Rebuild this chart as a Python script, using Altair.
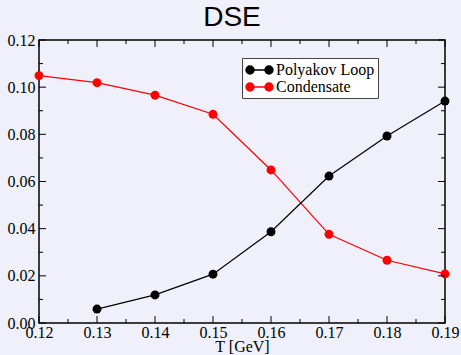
import altair as alt
import pandas as pd

# Temperature grid [GeV] and the two order parameters
T = [0.12, 0.13, 0.14, 0.15, 0.16, 0.17, 0.18, 0.19]
polyakov = [None, 0.0059, 0.0119, 0.0207, 0.0387, 0.0623, 0.0793, 0.0941]
condensate = [0.1049, 0.1019, 0.0966, 0.0885, 0.0649, 0.0376, 0.0266, 0.0208]

series_names = ["Polyakov Loop", "Condensate"]
series_colors = ["#000000", "#ff0000"]

# Axis ticks
x_major = [0.12, 0.13, 0.14, 0.15, 0.16, 0.17, 0.18, 0.19]
x_minor = [0.125, 0.135, 0.145, 0.155, 0.165, 0.175, 0.185]
y_major = [0.0, 0.02, 0.04, 0.06, 0.08, 0.10, 0.12]
y_minor = [0.01, 0.03, 0.05, 0.07, 0.09, 0.11]

W, H = 406, 283
MAJOR, MINOR = 7, 4
SERIF = "Liberation Serif, 'Times New Roman', Times, serif"
BG = "#f0f0fb"

rows = []
for t, p, c in zip(T, polyakov, condensate):
    if p is not None:
        rows.append({"T": t, "value": p, "series": series_names[0]})
    rows.append({"T": t, "value": c, "series": series_names[1]})
df = pd.DataFrame(rows)

xs = alt.Scale(domain=[0.12, 0.19], nice=False, zero=False)
ys = alt.Scale(domain=[0.0, 0.12], nice=False)

x_axis = alt.Axis(values=x_major, format=".2f", ticks=False, domain=False, grid=False,
                  labelFont=SERIF, labelFontSize=16, labelColor="#000", labelPadding=1,
                  labelFlush=False, labelOverlap=False,
                  title="T [GeV]", titleFont=SERIF, titleFontSize=16,
                  titleFontWeight="normal", titleColor="#000", titlePadding=-2)
y_axis = alt.Axis(values=y_major, format=".2f", ticks=False, domain=False, grid=False,
                  labelFont=SERIF, labelFontSize=16, labelColor="#000", labelPadding=4,
                  labelFlush=False, labelOverlap=False, title=None)

color = alt.Color("series:N",
                  scale=alt.Scale(domain=series_names, range=series_colors),
                  legend=alt.Legend(title=None))

base = alt.Chart(df).encode(
    x=alt.X("T:Q", scale=xs, axis=x_axis),
    y=alt.Y("value:Q", scale=ys, axis=y_axis),
    color=color,
)
lines = base.mark_line(strokeWidth=1.2)
points = base.mark_point(filled=True, size=80, opacity=1)

# Inward tick marks on all four sides of the frame
tick_style = dict(color="#000", strokeWidth=1)


def x_ticks(vals, length):
    src = alt.Chart(pd.DataFrame({"v": vals}))
    enc_x = alt.X("v:Q", scale=xs, axis=x_axis)
    return [
        src.mark_rule(**tick_style).encode(x=enc_x, y=alt.value(H), y2=alt.value(H - length)),
        src.mark_rule(**tick_style).encode(x=enc_x, y=alt.value(0), y2=alt.value(length)),
    ]


def y_ticks(vals, length):
    src = alt.Chart(pd.DataFrame({"value": vals}))
    enc_y = alt.Y("value:Q", scale=ys, axis=y_axis)
    return [
        src.mark_rule(**tick_style).encode(y=enc_y, x=alt.value(0), x2=alt.value(length)),
        src.mark_rule(**tick_style).encode(y=enc_y, x=alt.value(W), x2=alt.value(W - length)),
    ]


ticks = (x_ticks(x_major, MAJOR) + x_ticks(x_minor, MINOR)
         + y_ticks(y_major, MAJOR) + y_ticks(y_minor, MINOR))

# Legend glyph: a short line segment with a dot at each end
legend_symbol = ("M-0.5,0L1.875,0"
                 "M-1,0A0.5,0.5,0,1,0,0,0A0.5,0.5,0,1,0,-1,0Z"
                 "M1.375,0A0.5,0.5,0,1,0,2.375,0A0.5,0.5,0,1,0,1.375,0Z")

chart = alt.layer(lines, points, *ticks).properties(
    width=W, height=H,
    title=alt.TitleParams("DSE", font="Liberation Sans, Arial, sans-serif", fontSize=28,
                          fontWeight="normal", color="#000", anchor="middle",
                          baseline="alphabetic", offset=-22, dx=-10),
    autosize=alt.AutoSizeParams(type="none"),
    padding={"left": 39, "top": 40, "right": 16, "bottom": 32},
    background=BG,
).configure_view(
    stroke="#000", strokeWidth=1.5, fill=BG
).configure_legend(
    orient="none", legendX=203, legendY=18,
    fillColor="#ffffff", strokeColor="#444444", padding=3,
    labelFont=SERIF, labelFontSize=16, labelColor="#000",
    symbolType=legend_symbol, symbolSize=256, symbolStrokeWidth=1.4,
    rowPadding=0, labelOffset=13, cornerRadius=0,
)

chart.save("out.html", embed_options={"renderer": "svg", "actions": False})
